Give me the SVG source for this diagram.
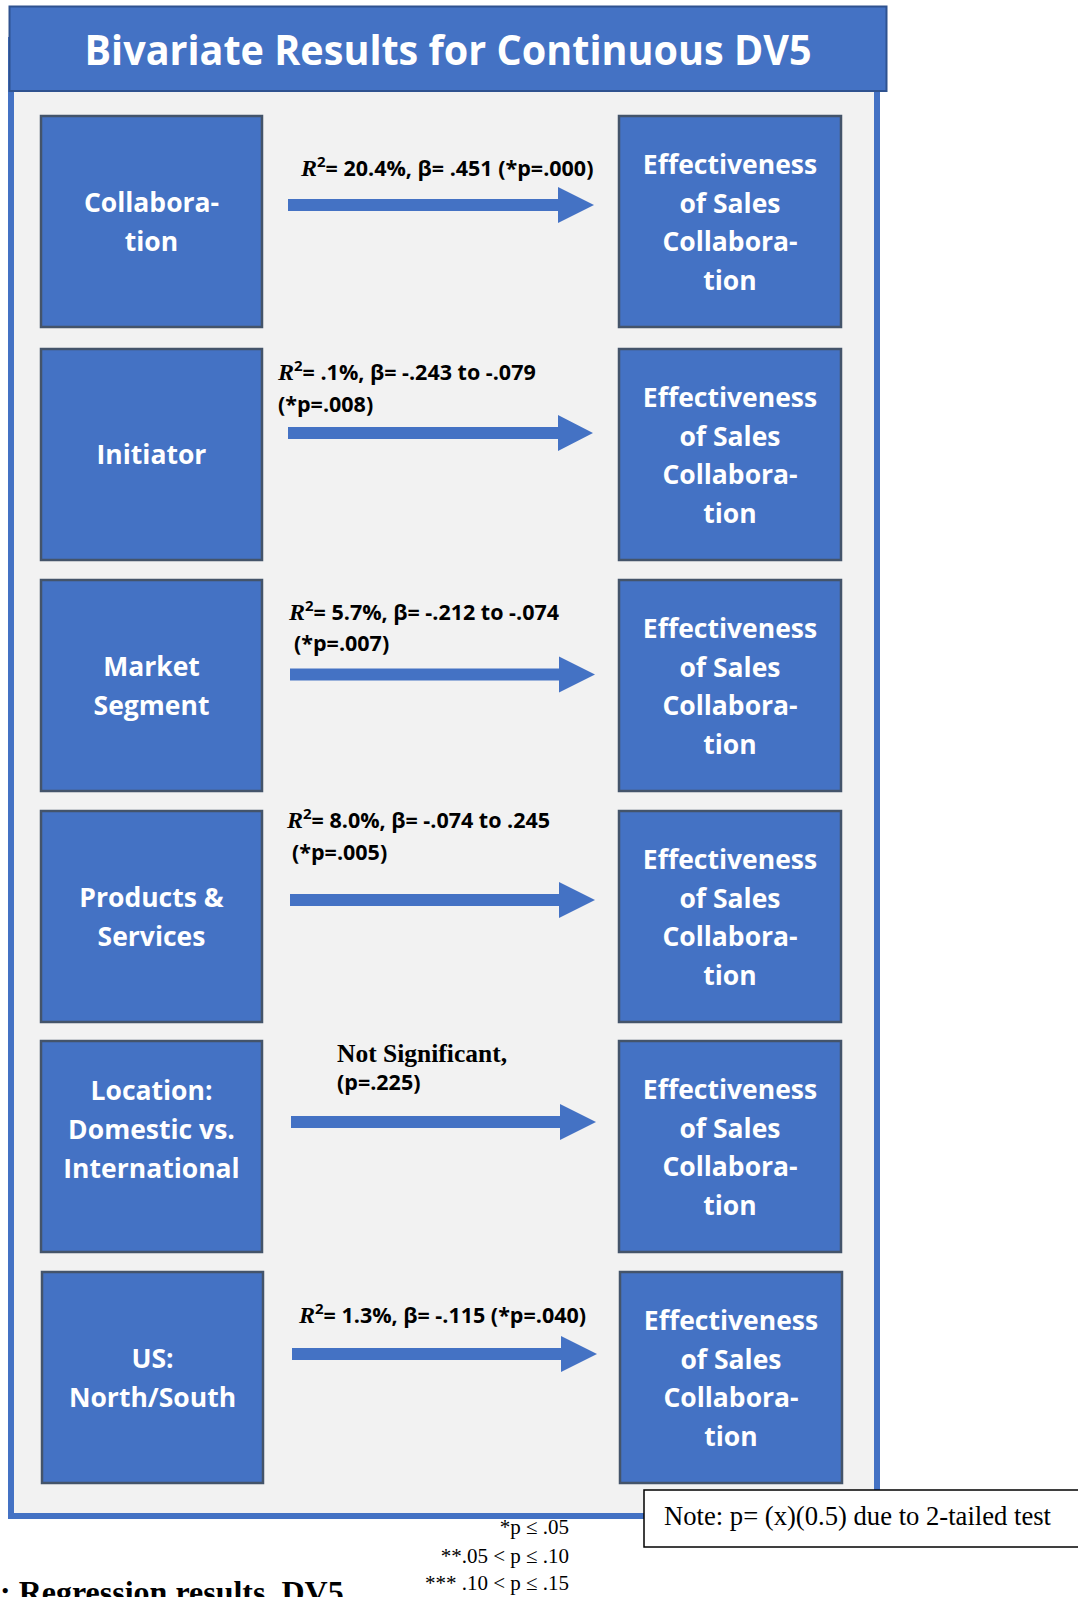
<svg xmlns="http://www.w3.org/2000/svg" width="1078" height="1597" viewBox="0 0 1078 1597">
  <style>
    .panel { fill: #f2f2f2; stroke: #4472c4; stroke-width: 6; }
    .titlebar { fill: #4472c4; stroke: #2f528f; stroke-width: 2; }
    .title { fill: #ffffff; font-family: "Open Sans", "Liberation Sans", sans-serif; font-weight: bold; font-size: 41px; text-anchor: middle; }
    .box { fill: #4472c4; stroke: #44546a; stroke-width: 2.5; }
    .nt { fill: #ffffff; font-family: "Open Sans", "Liberation Sans", sans-serif; font-weight: bold; font-size: 26.5px; text-anchor: middle; }
    .arrow { fill: #4472c4; }
    .lbl { fill: #000000; font-family: "Open Sans", "Liberation Sans", sans-serif; font-weight: bold; font-size: 21.5px; }
    .r { font-family: "Liberation Serif", serif; font-style: italic; font-weight: bold; font-size: 24px; }
    .sup { font-family: "Open Sans", "Liberation Sans", sans-serif; font-weight: bold; font-size: 15px; }
    .serifb { font-family: "Liberation Serif", serif; font-weight: bold; font-size: 25.5px; }
    .foot { fill: #000000; font-family: "Liberation Serif", serif; font-size: 21px; text-anchor: end; }
    .note { fill: #ffffff; stroke: #000000; stroke-width: 1.5; }
    .notetext { fill: #000000; font-family: "Liberation Serif", serif; font-size: 27px; }
  </style>

  <!-- background panel and heading -->
  <rect x="0" y="0" width="1078" height="1597" fill="#ffffff"/>
  <rect class="panel" x="11" y="40" width="866" height="1476"/>
  <g id="title">
    <rect class="titlebar" x="9.5" y="6.5" width="877" height="84.5"/>
    <text class="title" x="448" y="64.5" textLength="727" lengthAdjust="spacingAndGlyphs">Bivariate Results for Continuous DV5</text>
  </g>

  <!-- predictor nodes (left column) -->
  <g id="node-collaboration">
    <rect class="box" x="41" y="116" width="221" height="211"/>
    <text class="nt" x="151.5" y="212">Collabora-</text>
    <text class="nt" x="151.5" y="251">tion</text>
  </g>
  <g id="node-initiator">
    <rect class="box" x="41" y="349" width="221" height="211"/>
    <text class="nt" x="151.5" y="464">Initiator</text>
  </g>
  <g id="node-market-segment">
    <rect class="box" x="41" y="580" width="221" height="211"/>
    <text class="nt" x="151.5" y="676">Market</text>
    <text class="nt" x="151.5" y="715">Segment</text>
  </g>
  <g id="node-products-services">
    <rect class="box" x="41" y="811" width="221" height="211"/>
    <text class="nt" x="151.5" y="907">Products &amp;</text>
    <text class="nt" x="151.5" y="946">Services</text>
  </g>
  <g id="node-location">
    <rect class="box" x="41" y="1041" width="221" height="211"/>
    <text class="nt" x="151.5" y="1100">Location:</text>
    <text class="nt" x="151.5" y="1139">Domestic vs.</text>
    <text class="nt" x="151.5" y="1178">International</text>
  </g>
  <g id="node-us-region">
    <rect class="box" x="42" y="1272" width="221" height="211"/>
    <text class="nt" x="152.5" y="1368">US:</text>
    <text class="nt" x="152.5" y="1407">North/South</text>
  </g>

  <!-- outcome nodes (right column) -->
  <g id="node-outcome-1">
    <rect class="box" x="619" y="116" width="222" height="211"/>
    <text class="nt" x="730" y="174">Effectiveness</text>
    <text class="nt" x="730" y="212.7">of Sales</text>
    <text class="nt" x="730" y="251.4">Collabora-</text>
    <text class="nt" x="730" y="290">tion</text>
  </g>
  <g id="node-outcome-2">
    <rect class="box" x="619" y="349" width="222" height="211"/>
    <text class="nt" x="730" y="407">Effectiveness</text>
    <text class="nt" x="730" y="445.7">of Sales</text>
    <text class="nt" x="730" y="484.4">Collabora-</text>
    <text class="nt" x="730" y="523">tion</text>
  </g>
  <g id="node-outcome-3">
    <rect class="box" x="619" y="580" width="222" height="211"/>
    <text class="nt" x="730" y="638">Effectiveness</text>
    <text class="nt" x="730" y="676.7">of Sales</text>
    <text class="nt" x="730" y="715.4">Collabora-</text>
    <text class="nt" x="730" y="754">tion</text>
  </g>
  <g id="node-outcome-4">
    <rect class="box" x="619" y="811" width="222" height="211"/>
    <text class="nt" x="730" y="869">Effectiveness</text>
    <text class="nt" x="730" y="907.7">of Sales</text>
    <text class="nt" x="730" y="946.4">Collabora-</text>
    <text class="nt" x="730" y="985">tion</text>
  </g>
  <g id="node-outcome-5">
    <rect class="box" x="619" y="1041" width="222" height="211"/>
    <text class="nt" x="730" y="1099">Effectiveness</text>
    <text class="nt" x="730" y="1137.7">of Sales</text>
    <text class="nt" x="730" y="1176.4">Collabora-</text>
    <text class="nt" x="730" y="1215">tion</text>
  </g>
  <g id="node-outcome-6">
    <rect class="box" x="620" y="1272" width="222" height="211"/>
    <text class="nt" x="731" y="1330">Effectiveness</text>
    <text class="nt" x="731" y="1368.7">of Sales</text>
    <text class="nt" x="731" y="1407.4">Collabora-</text>
    <text class="nt" x="731" y="1446">tion</text>
  </g>

  <!-- regression arrows with their statistics -->
  <g id="connectors">
    <g id="edge-1">
      <path class="arrow" d="M288,199 H558 V187 L594,205 L558,223 V211 H288 Z"/>
      <text class="lbl" x="301" y="176"><tspan class="r">R</tspan><tspan class="sup" dy="-9">2</tspan><tspan dy="9">= 20.4%, β= .451 (*p=.000)</tspan></text>
    </g>
    <g id="edge-2">
      <path class="arrow" d="M288,427 H558 V415 L593,433 L558,451 V439 H288 Z"/>
      <text class="lbl" x="278" y="380"><tspan class="r">R</tspan><tspan class="sup" dy="-9">2</tspan><tspan dy="9">= .1%, β= -.243 to -.079</tspan></text>
      <text class="lbl" x="278" y="412">(*p=.008)</text>
    </g>
    <g id="edge-3">
      <path class="arrow" d="M290,668.5 H559 V656.5 L595,674.5 L559,692.5 V680.5 H290 Z"/>
      <text class="lbl" x="289" y="620"><tspan class="r">R</tspan><tspan class="sup" dy="-9">2</tspan><tspan dy="9">= 5.7%, β= -.212 to -.074</tspan></text>
      <text class="lbl" x="294" y="651">(*p=.007)</text>
    </g>
    <g id="edge-4">
      <path class="arrow" d="M290,894 H559 V882 L595,900 L559,918 V906 H290 Z"/>
      <text class="lbl" x="287" y="828"><tspan class="r">R</tspan><tspan class="sup" dy="-9">2</tspan><tspan dy="9">= 8.0%, β= -.074 to .245</tspan></text>
      <text class="lbl" x="292" y="860">(*p=.005)</text>
    </g>
    <g id="edge-5">
      <path class="arrow" d="M291,1116 H560 V1104 L596,1122 L560,1140 V1128 H291 Z"/>
      <text class="lbl serifb" x="337" y="1062">Not Significant,</text>
      <text class="lbl" x="337" y="1090">(p=.225)</text>
    </g>
    <g id="edge-6">
      <path class="arrow" d="M292,1348 H561 V1336 L597,1354 L561,1372 V1360 H292 Z"/>
      <text class="lbl" x="299" y="1323"><tspan class="r">R</tspan><tspan class="sup" dy="-9">2</tspan><tspan dy="9">= 1.3%, β= -.115 (*p=.040)</tspan></text>
    </g>
  </g>

  <!-- note and significance key -->
  <g id="note">
    <rect class="note" x="644" y="1490" width="440" height="57"/>
    <text class="notetext" x="664" y="1525" textLength="387" lengthAdjust="spacingAndGlyphs">Note: p= (x)(0.5) due to 2-tailed test</text>
  </g>
  <g id="key">
    <text class="foot" x="569" y="1534">*p ≤ .05</text>
    <text class="foot" x="569" y="1563">**.05 &lt; p ≤ .10</text>
    <text class="foot" x="569" y="1590">*** .10 &lt; p ≤ .15</text>
  </g>
  <text x="0" y="1603" font-family="Liberation Serif, serif" font-weight="bold" font-size="32">: Regression results, DV5</text>
</svg>
